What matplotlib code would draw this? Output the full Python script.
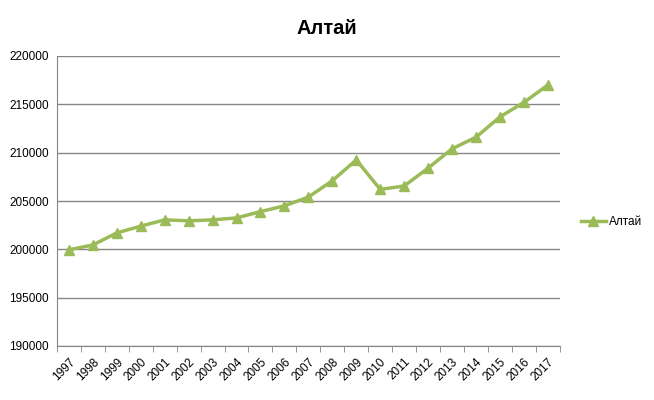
import matplotlib
matplotlib.use('Agg')
import matplotlib.pyplot as plt
import numpy as np

plt.rcParams['font.family'] = ['Liberation Sans', 'DejaVu Sans']

years = ['1997', '1998', '1999', '2000', '2001', '2002', '2003', '2004', '2005', '2006', '2007',
         '2008', '2009', '2010', '2011', '2012', '2013', '2014', '2015', '2016', '2017']
altai = [199950, 200450, 201700, 202400, 203050, 202950, 203050, 203250, 203900, 204500, 205400,
         207100, 209250, 206200, 206550, 208400, 210400, 211600, 213700, 215200, 217000]
yticks = [190000, 195000, 200000, 205000, 210000, 215000, 220000]

fig = plt.figure(figsize=(6.54, 4.0), dpi=100)
ax = fig.add_axes([0.087, 0.135, 0.769, 0.725])

x = np.arange(len(years))
ax.plot(x, altai, color='#9BBB59', lw=2.5, marker='^', ms=7, label='Алтай')

ax.set_xlim(-0.5, len(years) - 0.5)
ax.set_ylim(190000, 220000)
ax.set_yticks(yticks)
ax.set_yticklabels([str(v) for v in yticks], fontsize=8.5)
ax.yaxis.grid(True, color='#868686', lw=1)
ax.set_axisbelow(True)
ax.tick_params(axis='y', length=0, pad=6)

ax.set_xticks(x)
ax.set_xticklabels(years, rotation=45, ha='right', rotation_mode='anchor', fontsize=8.5)
ax.set_xticks(np.arange(len(years) + 1) - 0.5, minor=True)
ax.tick_params(axis='x', which='major', length=0, pad=7)
ax.tick_params(axis='x', which='minor', length=4, color='#868686')

for s in ['top', 'right']:
    ax.spines[s].set_visible(False)
ax.spines['left'].set_color('#868686')
ax.spines['bottom'].set_color('#868686')

fig.text(0.5, 0.928, 'Алтай', ha='center', va='center', fontsize=14.5, fontweight='bold')
ax.legend(loc='center left', bbox_to_anchor=(1.02, 0.428), frameon=False, fontsize=8.5,
          handlelength=2.2, handletextpad=0.2)

fig.savefig('out.png', dpi=100)
